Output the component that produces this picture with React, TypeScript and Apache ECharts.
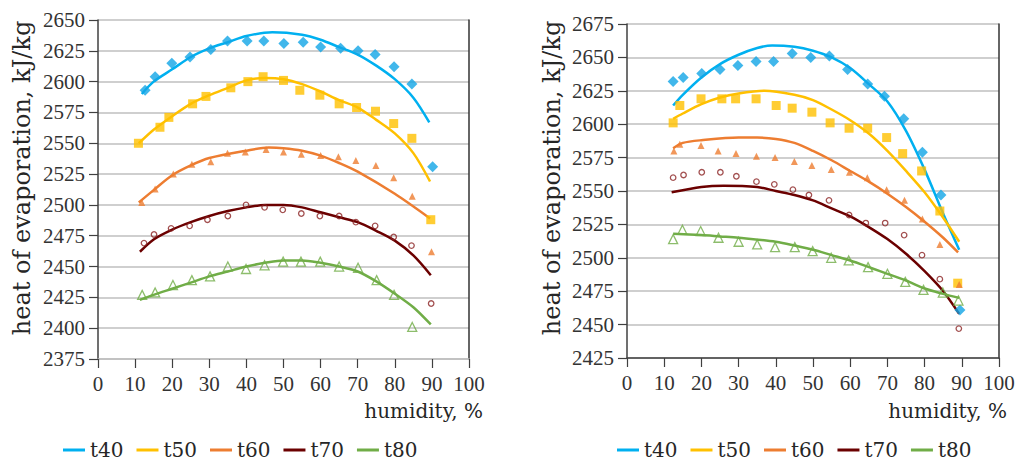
import React, { useEffect, useRef } from "react";
import * as echarts from "echarts";

// ---------- tick / axis labels ----------
const SERIES_NAMES = ["t40", "t50", "t60", "t70", "t80"];
const X_TITLE = "humidity, %";
const Y_TITLE = "heat of evaporation, kJ/kg";

// ---------- LEFT chart: measured points ----------
const L40_PX = [12.7, 15.4, 19.9, 24.8, 30.4, 34.9, 40.2, 44.7, 50.1, 55.3, 60, 65.4, 70.1, 74.7, 79.8, 84.6, 90.2];
const L40_PY = [2593, 2604, 2615, 2620, 2626, 2633, 2633, 2633, 2631, 2632, 2628, 2627, 2625, 2622, 2612, 2598, 2531];
const L50_PX = [10.9, 16.7, 19.1, 25.5, 29.1, 35.8, 40.4, 44.5, 50, 54.4, 59.8, 65, 69.7, 74.8, 79.7, 84.6, 89.7];
const L50_PY = [2550, 2563, 2571, 2582, 2588, 2595, 2600, 2604, 2601, 2593, 2589, 2582, 2579, 2576, 2566, 2554, 2488];
const L60_PX = [11.8, 15.4, 20.3, 25.3, 30.4, 34.9, 39.7, 45.3, 50, 54.8, 60, 64.8, 69.5, 74.9, 79.7, 84.7, 89.9];
const L60_PY = [2502, 2513, 2525, 2533, 2535, 2542, 2543, 2545, 2543, 2541, 2540, 2539, 2536, 2532, 2522, 2507, 2462];
const L70_PX = [12.4, 15.1, 19.7, 24.7, 29.5, 35, 39.9, 44.9, 49.8, 54.8, 59.8, 65, 69.5, 74.7, 79.7, 84.5, 89.8];
const L70_PY = [2469, 2476, 2481, 2483, 2488, 2491, 2500, 2498, 2496, 2493, 2491, 2491, 2486, 2483, 2474, 2467, 2420];
const L80_PX = [11.9, 15.4, 20.2, 25.3, 30.2, 35, 39.9, 44.9, 49.9, 54.7, 59.9, 65, 70.1, 75.1, 79.8, 84.7];
const L80_PY = [2427, 2429, 2435, 2439, 2442, 2450, 2448, 2451, 2454, 2454, 2454, 2450, 2449, 2439, 2427, 2401];

// ---------- LEFT chart: trend curves ----------
const L40_CX = [11.8, 15, 20, 25, 30, 35, 40, 47, 55, 60, 65, 70, 75, 80, 85, 89.3];
const L40_CY = [2590, 2600, 2610, 2620, 2627, 2632, 2637, 2640, 2638, 2634, 2628, 2622, 2613, 2602, 2587, 2567];
const L50_CX = [11, 15, 20, 25, 30, 35, 40, 45, 50, 55, 60, 65, 70, 75, 80, 85, 89.5];
const L50_CY = [2550, 2561, 2572, 2582, 2589, 2595, 2601, 2603, 2602, 2598, 2592, 2585, 2579, 2569, 2558, 2542, 2519];
const L60_CX = [11, 15, 20, 25, 30, 40, 46, 50, 55, 60, 65, 70, 80, 89.5];
const L60_CY = [2502, 2512, 2524, 2532, 2538, 2544, 2546.5, 2546, 2544, 2540, 2534, 2527, 2509, 2489];
const L70_CX = [11.3, 15, 20, 25, 30, 35, 40, 45, 50, 55, 60, 65, 70, 75, 80, 85, 89.7];
const L70_CY = [2462, 2472, 2480, 2486, 2491, 2495, 2498, 2500, 2500, 2498, 2494, 2490, 2486, 2479, 2471, 2459, 2443];
const L80_CX = [11.3, 15, 20, 25, 30, 35, 40, 45, 50, 55, 60, 65, 70, 75, 80, 85, 89.7];
const L80_CY = [2423, 2427, 2432, 2437, 2442, 2446, 2450, 2453, 2455, 2455, 2453, 2450, 2446, 2438, 2428, 2417, 2403];

// ---------- RIGHT chart: measured points ----------
const R40_PX = [12.4, 15.1, 20.1, 25, 29.8, 34.7, 39.4, 44.4, 49.4, 54.4, 59.3, 64.7, 69.2, 74.4, 79.4, 84.4, 89.5];
const R40_PY = [2632, 2635, 2638, 2641, 2644, 2647, 2647, 2653, 2650, 2651, 2641, 2630, 2621, 2604, 2579, 2547, 2461];
const R50_PX = [12.4, 14.2, 19.9, 25.5, 29.2, 34.7, 40.1, 44.4, 49.7, 54.6, 59.7, 64.7, 69.8, 74.1, 79.2, 84.1, 88.9];
const R50_PY = [2601, 2614, 2619, 2619, 2619, 2619, 2614, 2612, 2609, 2601, 2597, 2597, 2590, 2578, 2565, 2535, 2481];
const R60_PX = [12.6, 14.2, 19.9, 24.5, 29.3, 34.8, 39.8, 45, 49.7, 54.9, 59.8, 64.6, 69.8, 74.6, 79.4, 84.1, 89.3];
const R60_PY = [2580, 2585, 2584, 2580, 2578, 2576, 2575, 2572, 2569, 2566, 2564, 2560, 2551, 2543, 2529, 2510, 2480];
const R70_PX = [12.4, 15.2, 20.1, 25.1, 29.4, 34.8, 39.6, 44.6, 48.9, 54.3, 59.7, 64.2, 69.4, 74.5, 79.3, 84.1, 89.2];
const R70_PY = [2560, 2562, 2564, 2564, 2561, 2557, 2555, 2551, 2547, 2543, 2532, 2526, 2526, 2517, 2502, 2484, 2447];
const R80_PX = [12.4, 14.9, 19.8, 24.6, 30, 35, 39.8, 45.1, 49.9, 54.9, 59.6, 64.8, 70, 74.8, 79.7, 84.9, 89.1];
const R80_PY = [2514, 2521, 2520, 2515, 2512, 2510, 2508, 2508, 2505, 2500, 2498, 2493, 2488, 2482, 2476, 2474, 2468];

// ---------- RIGHT chart: trend curves ----------
const R40_CX = [12.4, 15, 20, 25, 30, 35, 39, 45, 50, 55, 60, 65, 70, 75, 80, 85, 89.3];
const R40_CY = [2614, 2622, 2635, 2645, 2652, 2657, 2659, 2658, 2655, 2650, 2642, 2630, 2617, 2595, 2566, 2533, 2506];
const R50_CX = [12.4, 15, 20, 25, 30, 37, 45, 50, 55, 60, 65, 70, 75, 80, 85, 89.3];
const R50_CY = [2604, 2608, 2615, 2620, 2623, 2625, 2622, 2618, 2611, 2603, 2593, 2580, 2565, 2549, 2530, 2512];
const R60_CX = [12.4, 15, 20, 30, 35, 40, 45, 50, 55, 60, 65, 70, 75, 80, 85, 89];
const R60_CY = [2582, 2586, 2588, 2590, 2590, 2589, 2586, 2580, 2573, 2565, 2557, 2548, 2538, 2527, 2515, 2504];
const R70_CX = [12, 20, 26, 35, 40, 45, 50, 55, 60, 65, 70, 75, 80, 85, 89.3];
const R70_CY = [2549, 2553, 2554, 2553, 2550, 2547, 2543, 2537, 2531, 2523, 2514, 2503, 2490, 2475, 2458];
const R80_CX = [12.4, 20, 25, 30, 40, 50, 55, 60, 66, 70, 75, 80, 85, 89.3];
const R80_CY = [2518, 2517, 2516, 2515, 2512, 2506, 2502, 2498, 2492, 2488, 2483, 2477, 2473, 2470];

// ---------- styling ----------
const LINE_COLORS = ["#00B0F0", "#FFC000", "#ED7D31", "#6B0000", "#70AD47"];
const MARK_COLORS = ["#12A5E6", "#FFC000", "#ED7D31", "#8B2323", "#70AD47"];
const TICK_FONT = '"Liberation Serif", serif';
const TEXT_FONT = '"DejaVu Serif", serif';

const zip = (xs: number[], ys: number[]) => xs.map((x, i) => [x, ys[i]]);

const markerStyle = (i: number) => {
  const c = MARK_COLORS[i];
  switch (i) {
    case 0:
      return { symbol: "diamond", symbolSize: 11, itemStyle: { color: c } };
    case 1:
      return { symbol: "rect", symbolSize: 9, itemStyle: { color: c } };
    case 2:
      return { symbol: "triangle", symbolSize: 7, itemStyle: { color: c } };
    case 3:
      return {
        symbol: "circle",
        symbolSize: 5.5,
        itemStyle: { color: "rgba(255,255,255,0)", borderColor: c, borderWidth: 1.3 },
      };
    default:
      return {
        symbol: "triangle",
        symbolSize: 9,
        itemStyle: { color: "rgba(255,255,255,0)", borderColor: c, borderWidth: 1.3 },
      };
  }
};

const LEFT_POINTS = [zip(L40_PX, L40_PY), zip(L50_PX, L50_PY), zip(L60_PX, L60_PY), zip(L70_PX, L70_PY), zip(L80_PX, L80_PY)];
const LEFT_CURVES = [zip(L40_CX, L40_CY), zip(L50_CX, L50_CY), zip(L60_CX, L60_CY), zip(L70_CX, L70_CY), zip(L80_CX, L80_CY)];
const RIGHT_POINTS = [zip(R40_PX, R40_PY), zip(R50_PX, R50_PY), zip(R60_PX, R60_PY), zip(R70_PX, R70_PY), zip(R80_PX, R80_PY)];
const RIGHT_CURVES = [zip(R40_CX, R40_CY), zip(R50_CX, R50_CY), zip(R60_CX, R60_CY), zip(R70_CX, R70_CY), zip(R80_CX, R80_CY)];

function buildSeries(g: number, points: number[][][], curves: number[][][]) {
  const out: any[] = [];
  for (let i = 0; i < 5; i++) {
    out.push({
      type: "line",
      name: SERIES_NAMES[i],
      xAxisIndex: g,
      yAxisIndex: g * 2,
      data: curves[i],
      smooth: 0.3,
      symbol: "none",
      lineStyle: { width: 2.5, color: LINE_COLORS[i] },
      itemStyle: { color: LINE_COLORS[i] },
      z: 3,
      silent: true,
    });
  }
  for (let i = 0; i < 5; i++) {
    out.push({
      type: "scatter",
      name: SERIES_NAMES[i] + " data",
      xAxisIndex: g,
      yAxisIndex: g * 2,
      data: points[i],
      z: 4,
      silent: true,
      ...markerStyle(i),
    });
  }
  return out;
}

const plain = (v: number) => String(v);

const xAxisCfg = (g: number, lineColor: string) => ({
  gridIndex: g,
  type: "value",
  min: 0,
  max: 100,
  interval: 10,
  axisLine: { show: true, onZero: false, lineStyle: { color: lineColor, width: 1.5 } },
  axisTick: { show: true, inside: false, length: 9, lineStyle: { color: "#404040", width: 1.2 } },
  axisLabel: { fontSize: 21, fontFamily: TICK_FONT, color: "#333", margin: 14, formatter: plain },
  splitLine: { show: false },
});

const yAxisCfg = (g: number, min: number, max: number) => ({
  gridIndex: g,
  type: "value",
  min,
  max,
  interval: 25,
  axisLine: { show: true, lineStyle: { color: "#404040", width: 1.5 } },
  axisTick: { show: true, inside: false, length: 9, lineStyle: { color: "#404040", width: 1.2 } },
  axisLabel: { fontSize: 21, fontFamily: TICK_FONT, color: "#333", margin: 13, formatter: plain },
  splitLine: { show: true, lineStyle: { color: "#BFBFBF", width: 1.5 } },
});

const rightBorderCfg = (g: number, min: number, max: number) => ({
  gridIndex: g,
  type: "value",
  position: "right",
  min,
  max,
  interval: 25,
  axisLine: { show: true, lineStyle: { color: "#333", width: 1.5 } },
  axisTick: { show: false },
  axisLabel: { show: false },
  splitLine: { show: false },
});

const legendCfg = (left: number) => ({
  left,
  top: 440,
  orient: "horizontal",
  itemWidth: 22,
  itemHeight: 3,
  itemGap: 13,
  padding: 0,
  textStyle: { fontSize: 20, fontFamily: TEXT_FONT, color: "#262626" },
  data: SERIES_NAMES.map((n) => ({ name: n, icon: "rect" })),
  selectedMode: false,
});

export default function App() {
  const ref = useRef<HTMLDivElement>(null);
  useEffect(() => {
    if (!ref.current) return;
    const chart = echarts.init(ref.current, undefined, { renderer: "svg" });
    chart.setOption({
      animation: false,
      backgroundColor: "#ffffff",
      grid: [
        { left: 98, top: 20, width: 371, height: 339 },
        { left: 627, top: 24, width: 372, height: 334 },
      ],
      xAxis: [xAxisCfg(0, "#BFBFBF"), xAxisCfg(1, "#404040")],
      yAxis: [
        yAxisCfg(0, 2375, 2650),
        rightBorderCfg(0, 2375, 2650),
        yAxisCfg(1, 2425, 2675),
        rightBorderCfg(1, 2425, 2675),
      ],
      legend: [legendCfg(63), legendCfg(617)],
      graphic: [
        {
          type: "text",
          x: 22,
          y: 178,
          rotation: Math.PI / 2,
          style: { text: Y_TITLE, fontSize: 24, fontFamily: TEXT_FONT, fill: "#262626", align: "center", verticalAlign: "middle" },
        },
        {
          type: "text",
          x: 552,
          y: 178,
          rotation: Math.PI / 2,
          style: { text: Y_TITLE, fontSize: 24, fontFamily: TEXT_FONT, fill: "#262626", align: "center", verticalAlign: "middle" },
        },
        {
          type: "text",
          x: 483,
          y: 411,
          style: { text: X_TITLE, fontSize: 20, fontFamily: TEXT_FONT, fill: "#262626", align: "right", verticalAlign: "middle" },
        },
        {
          type: "text",
          x: 1007,
          y: 411,
          style: { text: X_TITLE, fontSize: 20, fontFamily: TEXT_FONT, fill: "#262626", align: "right", verticalAlign: "middle" },
        },
      ],
      series: [...buildSeries(0, LEFT_POINTS, LEFT_CURVES), ...buildSeries(1, RIGHT_POINTS, RIGHT_CURVES)],
    });
    return () => chart.dispose();
  }, []);
  return <div ref={ref} style={{ position: "fixed", left: 0, top: 0, width: 1024, height: 462, background: "#fff" }} />;
}
